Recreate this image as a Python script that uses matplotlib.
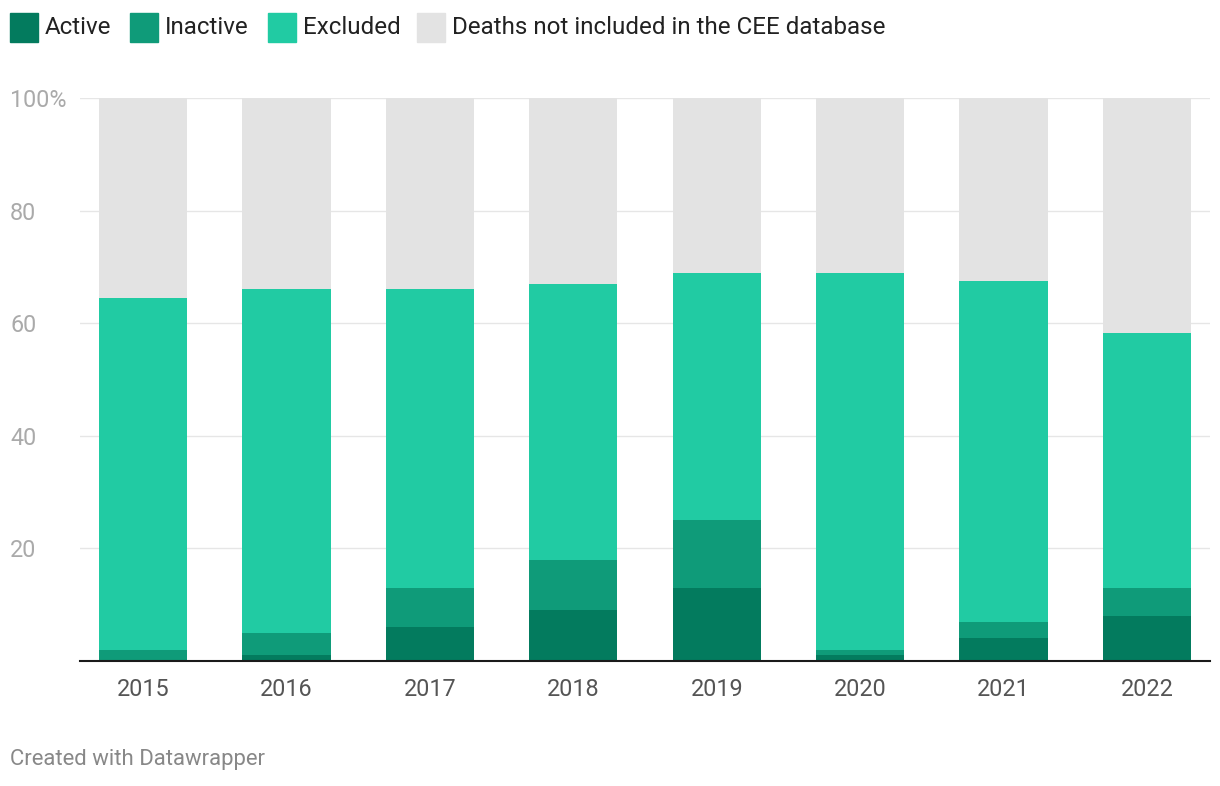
import numpy as np
import matplotlib
matplotlib.use("Agg")
from matplotlib import pyplot as plt
from matplotlib.patches import Rectangle

plt.rcParams['font.family'] = ['Roboto', 'DejaVu Sans']

years = ["2015", "2016", "2017", "2018", "2019", "2020", "2021", "2022"]
active = [0, 1, 6, 9, 13, 1, 4, 8]
inactive = [2, 4, 7, 9, 12, 1, 3, 5]
excluded = [62.5, 61, 53, 49, 44, 67, 60.5, 45.3]

labels = ["Active", "Inactive", "Excluded", "Deaths not included in the CEE database"]
colors = ["#037b5e", "#0f9b79", "#21cba3", "#e3e3e3"]

active = np.array(active, dtype=float)
inactive = np.array(inactive, dtype=float)
excluded = np.array(excluded, dtype=float)
not_incl = 100 - active - inactive - excluded

fig = plt.figure(figsize=(12.2, 7.86), dpi=100)
ax = fig.add_axes([80/1220, 125/786, 1130/1220, 563/786])

x = np.arange(len(years))
w = 0.615
bottom = np.zeros(len(years))
for vals, c in zip([active, inactive, excluded, not_incl], colors):
    ax.bar(x, vals, w, bottom=bottom, color=c, linewidth=0, zorder=2)
    bottom += vals

ax.set_xlim(-0.44, 7.44)
ax.set_ylim(0, 100)
ax.set_yticks([0, 20, 40, 60, 80, 100])
ax.set_yticklabels(["", "20", "40", "60", "80", "100%"])
ax.grid(axis='y', color='#e6e6e6', linewidth=1, zorder=0)
ax.set_axisbelow(True)
for s in ["top", "right", "left"]:
    ax.spines[s].set_visible(False)
ax.spines["bottom"].set_color("#1a1a1a")
ax.spines["bottom"].set_linewidth(1.5)
ax.spines["bottom"].set_zorder(3)
ax.set_xticks(x)
ax.set_xticklabels(years)
ax.tick_params(axis='x', length=0, pad=12, labelsize=16.8, labelcolor='#555555')
ax.tick_params(axis='y', length=0, pad=0, labelsize=16.8, labelcolor='#aaaaaa')
for t in ax.get_yticklabels():
    t.set_horizontalalignment('left')
    t.set_x(-70/1130)

# legend
lx = [10, 130, 268, 417]
for px, lab, c in zip(lx, labels, colors):
    fig.patches.append(Rectangle((px/1220, (786-42)/786), 28/1220, 29/786,
                                 transform=fig.transFigure, color=c))
    fig.text((px+35)/1220, (786-27)/786, lab, fontsize=17.4, color='#222222', va='center')

fig.text(10/1220, (786-760)/786, "Created with Datawrapper", fontsize=15.9, color='#888888', va='center')

fig.savefig("out.png", dpi=100)
